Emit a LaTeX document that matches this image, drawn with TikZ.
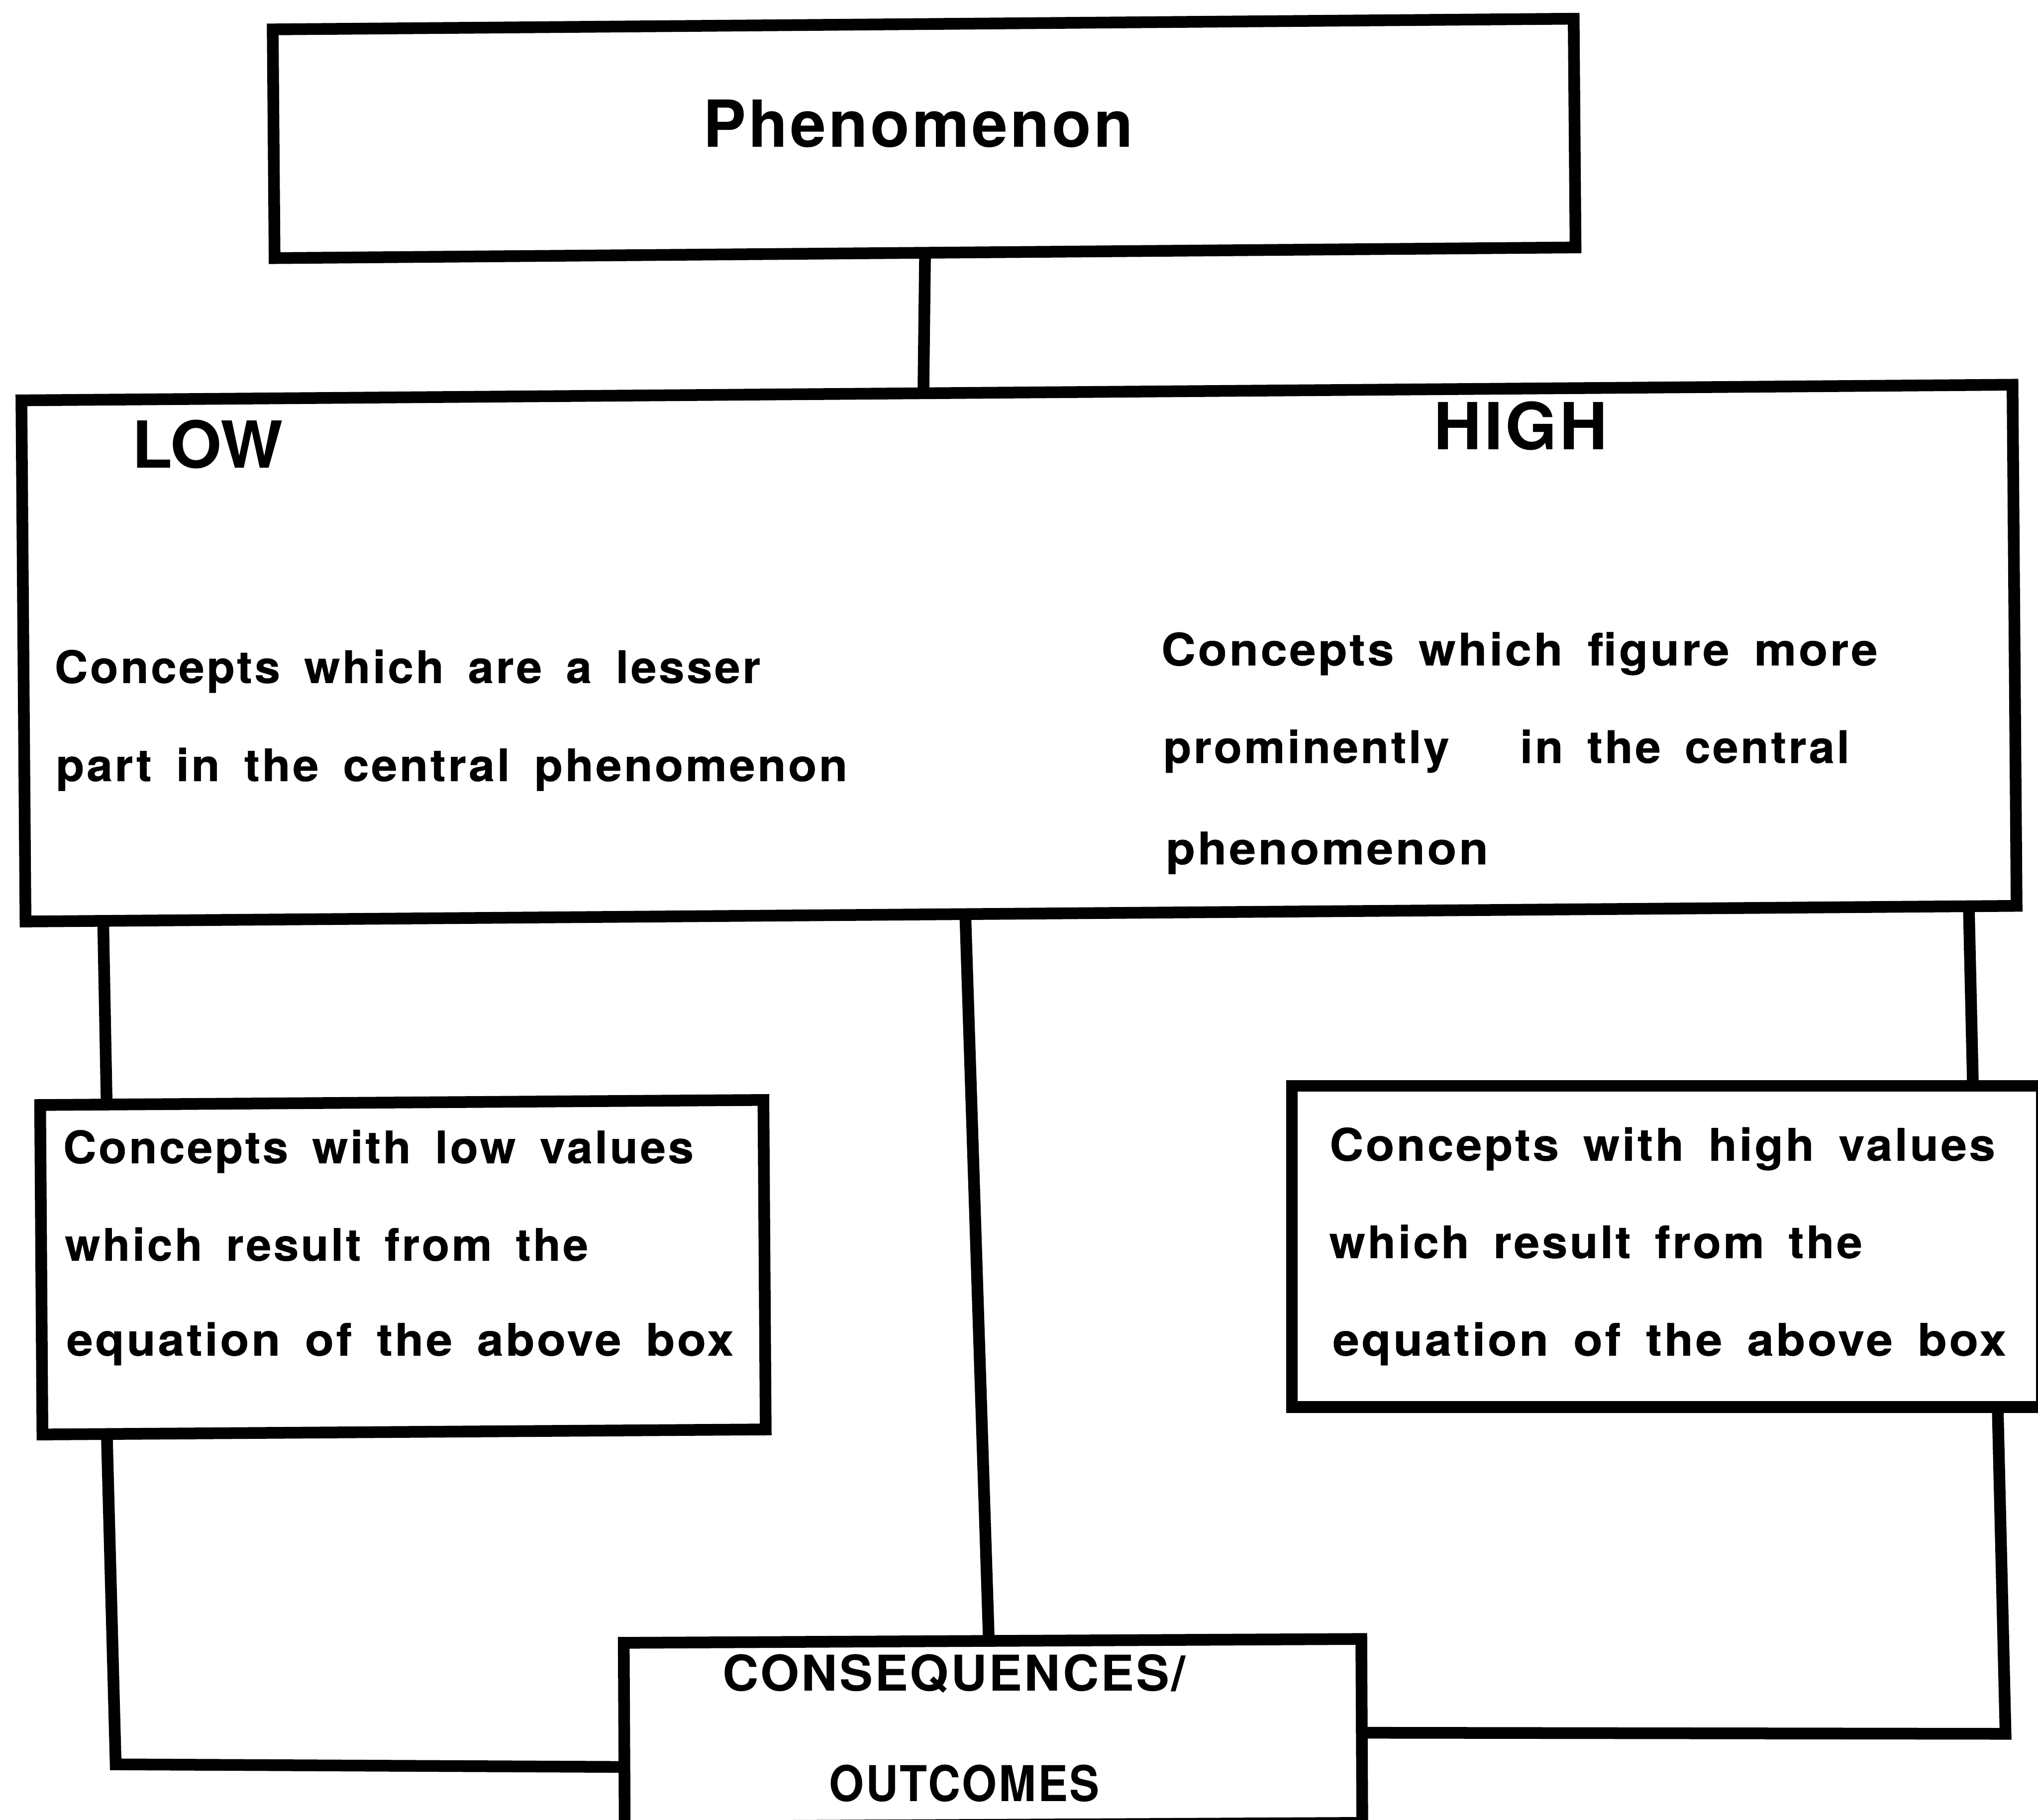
\documentclass[tikz,border=0pt]{standalone}
\usepackage{fontspec}
\usepackage{graphicx}
\setmainfont{TeX Gyre Heros}
\newfontfamily\bodyfont{texgyreheros-bold.otf}[LetterSpace=5,WordSpace=1.6,FakeBold=0.5]
\newfontfamily\headfont{TeX Gyre Heros}[LetterSpace=4]
\usetikzlibrary{calc}
\newcommand\fitw[2]{\resizebox{#1cm}{\height}{#2}}
\tikzset{
  box/.style={draw, line width=0.09cm, rectangle, inner sep=0pt, outer sep=0pt},
  conn/.style={line width=0.09cm, line join=miter},
  txt/.style={anchor=base west, inner sep=0pt, outer sep=0pt,
    font=\bodyfont\fontsize{9.8}{11}\selectfont},
  head/.style={anchor=base west, inner sep=0pt, outer sep=0pt,
    font=\headfont\bfseries\fontsize{14.2}{17}\selectfont},
  cons/.style={anchor=base west, inner sep=0pt, outer sep=0pt,
    font=\headfont\bfseries\fontsize{10.8}{13}\selectfont},
}
\begin{document}
\begin{tikzpicture}
\useasboundingbox (0,0) rectangle (15.68,-14.00);
\fill[white] (0,0) rectangle (15.68,-14.00);

% boxes
\node[box, minimum width=10.01cm, minimum height=1.76cm, rotate=0.47] (top) at (7.11,-1.065) {};
\node[box, minimum width=15.32cm, minimum height=4.01cm, rotate=0.45] (main) at (7.84,-5.025) {};
\node[box, minimum width=5.565cm, minimum height=2.535cm, rotate=0.4] (lowbox) at (3.10,-9.75) {};
\node[box, minimum width=5.77cm, minimum height=2.47cm] (highbox) at (12.825,-9.59) {};
\node[box, minimum width=5.675cm, minimum height=1.415cm, rotate=0.3] (conseq) at (7.64,-13.3325) {};

% corner points
\coordinate (lc) at (0.89,-13.575);
\coordinate (rc) at (15.43,-13.34);

% connectors
\draw[conn] (top.south) -- ($(main.north west)!0.453!(main.north east)$);
\draw[conn] ($(main.south west)!0.039!(main.south east)$) -- ($(lowbox.north west)!0.092!(lowbox.north east)$);
\draw[conn] ($(main.south west)!0.472!(main.south east)$) -- ($(conseq.north west)!0.495!(conseq.north east)$);
\draw[conn] ($(main.south west)!0.976!(main.south east)$) -- ($(highbox.north west)!0.908!(highbox.north east)$);
\draw[conn] ($(lowbox.south west)!0.089!(lowbox.south east)$) -- (lc) -- ($(conseq.north west)!0.675!(conseq.south west)$);
\draw[conn] ($(highbox.south west)!0.941!(highbox.south east)$) -- (rc) -- ($(conseq.north east)!0.51!(conseq.south east)$);

% texts
\node[head] (t1) at (5.41,-1.13) {\fitw{3.31}{Phenomenon}};
\node[anchor=base west, inner sep=0pt, font=\bfseries\fontsize{14.2}{17}\selectfont] (t2) at (1.01,-3.60) {\fitw{1.16}{LOW}};
\node[head] (t3) at (11.03,-3.46) {\fitw{1.34}{HIGH}};

\node[txt] (t4) at (0.42,-5.255) {\fitw{5.43}{Concepts which are a lesser}};
\node[txt] (t5) at (0.43,-6.01) {\fitw{6.09}{part in the central phenomenon}};

\node[txt] (t6) at (8.935,-5.12) {\fitw{5.51}{Concepts which figure more}};
\node[txt] (t7) at (8.95,-5.87) {\fitw{5.28}{prominently\hspace{0.35cm} in the central}};
\node[txt] (t8) at (8.97,-6.65) {\fitw{2.48}{phenomenon}};

\node[txt] (t9) at (0.486,-8.95) {\fitw{4.85}{Concepts with low values}};
\node[txt] (t10) at (0.50,-9.70) {\fitw{4.025}{which result from the}};
\node[txt] (t11) at (0.513,-10.43) {\fitw{5.13}{equation of the above box}};

\node[txt] (t12) at (10.23,-8.93) {\fitw{5.12}{Concepts with high values}};
\node[txt] (t13) at (10.228,-9.68) {\fitw{4.10}{which result from the}};
\node[txt] (t14) at (10.254,-10.43) {\fitw{5.18}{equation of the above box}};

\node[cons] (t15) at (5.56,-13.01) {\fitw{3.56}{CONSEQUENCES/}};
\node[cons] (t16) at (6.38,-13.86) {\fitw{2.08}{OUTCOMES}};
\end{tikzpicture}
\end{document}
